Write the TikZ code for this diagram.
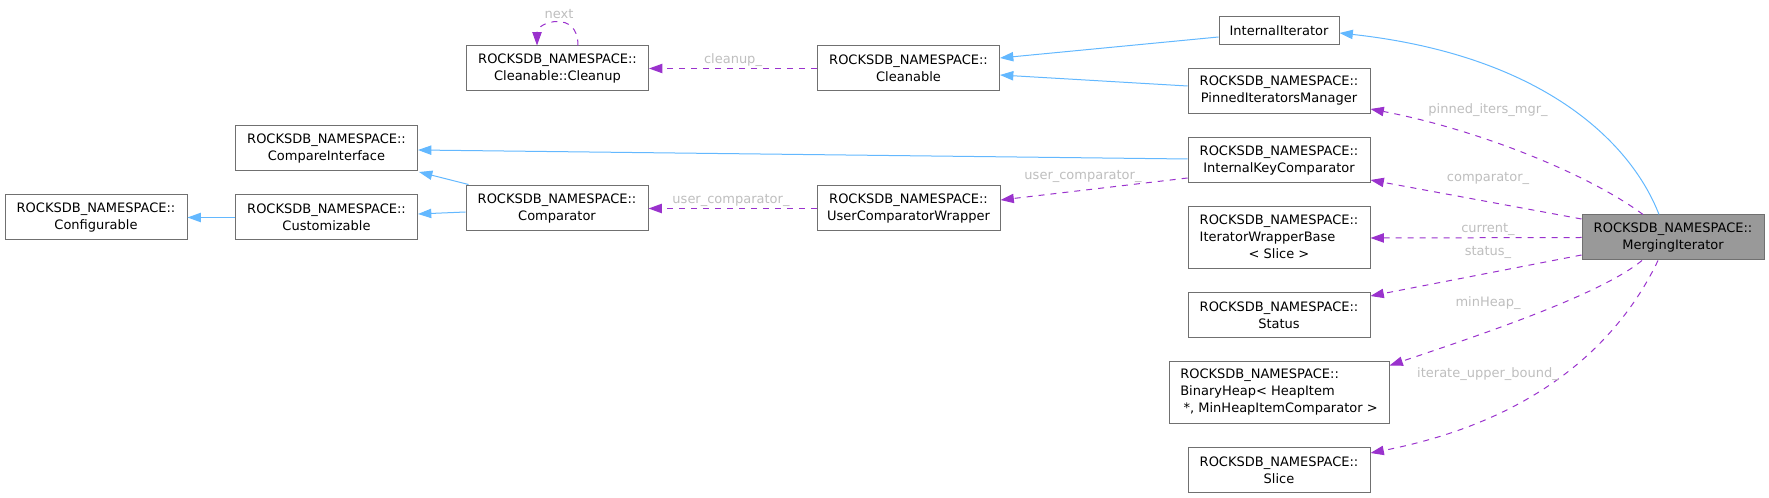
\documentclass[tikz,border=0pt]{standalone}
\usepackage{fontspec}
\setmainfont{DejaVu Sans}
\usetikzlibrary{arrows.meta,calc}
\definecolor{edgeblue}{HTML}{63B8FF}
\definecolor{edgepurple}{HTML}{9A32CD}
\definecolor{boxborder}{HTML}{707070}
\definecolor{mifill}{HTML}{999999}
\definecolor{lblgray}{HTML}{BEBEBE}
\begin{document}
\begin{tikzpicture}[x=0.75pt,y=-0.75pt,
  box/.style={draw=boxborder, line width=0.75pt, fill=white, inner sep=0pt, align=center,
    font=\fontsize{9.75pt}{12.75pt}\selectfont},
  std/.style={minimum width=136.5pt, minimum height=33.75pt},
  inh/.style={draw=edgeblue, line width=0.75pt, -{Triangle[length=10pt,width=7pt]}},
  ref/.style={draw=edgepurple, line width=0.75pt, dash pattern=on 4.5pt off 4.5pt,
    -{Triangle[length=10pt,width=7pt]}},
  lbl/.style={text=lblgray, inner sep=0pt, font=\fontsize{9.75pt}{12.75pt}\selectfont},
]
\useasboundingbox (0,0) rectangle (1769,498);

% nodes
\node[box,std] (conf) at (96,217.5) {ROCKSDB\_NAMESPACE::\\Configurable};
\node[box,std] (ci) at (326.5,148.5) {ROCKSDB\_NAMESPACE::\\CompareInterface};
\node[box,std] (cust) at (326.5,217.5) {ROCKSDB\_NAMESPACE::\\Customizable};
\node[box,std] (cleanup) at (557.5,68.5) {ROCKSDB\_NAMESPACE::\\Cleanable::Cleanup};
\node[box,std] (comp) at (557,208.5) {ROCKSDB\_NAMESPACE::\\Comparator};
\node[box,std] (cleanable) at (908.5,68.5) {ROCKSDB\_NAMESPACE::\\Cleanable};
\node[box,std,minimum width=137.25pt] (ucw) at (908.5,208.5) {ROCKSDB\_NAMESPACE::\\UserComparatorWrapper};
\node[box,minimum width=90pt,minimum height=21pt] (ii) at (1279,31) {InternalIterator};
\node[box,std] (pim) at (1279,91) {ROCKSDB\_NAMESPACE::\\PinnedIteratorsManager};
\node[box,std] (ikc) at (1279,160.5) {ROCKSDB\_NAMESPACE::\\InternalKeyComparator};
\node[box,std,minimum height=46.5pt] (iwb) at (1279,238)
  {\begin{tabular}{@{}l@{}}ROCKSDB\_NAMESPACE::\\IteratorWrapperBase\\\multicolumn{1}{@{}c@{}}{< Slice >}\end{tabular}};
\node[box,std] (status) at (1279,315) {ROCKSDB\_NAMESPACE::\\Status};
\node[box,minimum width=165pt,minimum height=46.5pt,align=left] (bh) at (1279,392.5)
  {ROCKSDB\_NAMESPACE::\\BinaryHeap< HeapItem\\\hspace*{2.5pt}*, MinHeapItemComparator >};
\node[box,std] (slice) at (1279,470) {ROCKSDB\_NAMESPACE::\\Slice};
\node[box,std,fill=mifill] (mi) at (1673,237.5) {ROCKSDB\_NAMESPACE::\\MergingIterator};

% inheritance edges
\draw[inh] (cust) -- (conf);
\draw[inh] ($(comp.north west)+(3,-1)$) -- ($(ci.south east)+(1,0.5)$);
\draw[inh] ($(comp.west)+(0,3.5)$) -- ($(cust.east)+(0,-3.5)$);
\draw[inh] ($(ikc.west)+(0,-1.5)$) -- ($(ci.east)+(0,1.5)$);
\draw[inh] ($(ii.west)+(0,6)$) -- ($(cleanable.east)+(0,-10.5)$);
\draw[inh] ($(pim.west)+(0,-5)$) -- ($(cleanable.east)+(0,6.5)$);
\draw[inh] ($(mi.north)+(-14,0)$) .. controls (1630,140) and (1540,55) .. ($(ii.east)+(0,2)$);

% member edges
\draw[ref] ($(cleanup.north)+(20.5,0)$) .. controls ($(cleanup.north)+(20.5,-18)$) and ($(cleanup.north)+(10.5,-24)$) .. ($(cleanup.north)+(0,-24)$)
  .. controls ($(cleanup.north)+(-11.5,-24)$) and ($(cleanup.north)+(-20.5,-18)$) .. ($(cleanup.north)+(-20.5,0)$);
\node[lbl] (lnext) at (559,14) {next};

\draw[ref] (cleanable) -- (cleanup);
\node[lbl] (lcleanup) at (733,60) {cleanup\_};

\draw[ref] (ucw) -- (comp);
\node[lbl] (luc1) at (731,200) {user\_comparator\_};

\draw[ref] ($(ikc.west)+(0,17.5)$) -- ($(ucw.east)+(0,-8.5)$);
\node[lbl] (luc2) at (1083,176) {user\_comparator\_};

\draw[ref] ($(mi.north)+(-30,0)$) .. controls (1590,175) and (1480,130) .. ($(pim.east)+(0,18)$);
\node[lbl] (lpim) at (1488,110) {pinned\_iters\_mgr\_};

\draw[ref] ($(mi.west)+(0,-18.5)$) -- ($(ikc.east)+(0,19.5)$);
\node[lbl] (lcomp) at (1488,178) {comparator\_};

\draw[ref] (mi.west) -- (iwb.east);
\node[lbl] (lcur) at (1488,229) {current\_};

\draw[ref] ($(mi.west)+(0,17.5)$) -- ($(status.east)+(0,-19)$);
\node[lbl] (lstat) at (1488,252) {status\_};

\draw[ref] ($(mi.south)+(-31,0)$) .. controls (1600,295) and (1480,335) .. ($(bh.east)+(0,-27)$);
\node[lbl] (lheap) at (1488,303) {minHeap\_};

\draw[ref] ($(mi.south)+(-15,0)$) .. controls (1620,340) and (1540,420) .. ($(slice.east)+(0,-17)$);
\node[lbl] (liub) at (1488,374) {iterate\_upper\_bound\_};
\end{tikzpicture}
\end{document}
